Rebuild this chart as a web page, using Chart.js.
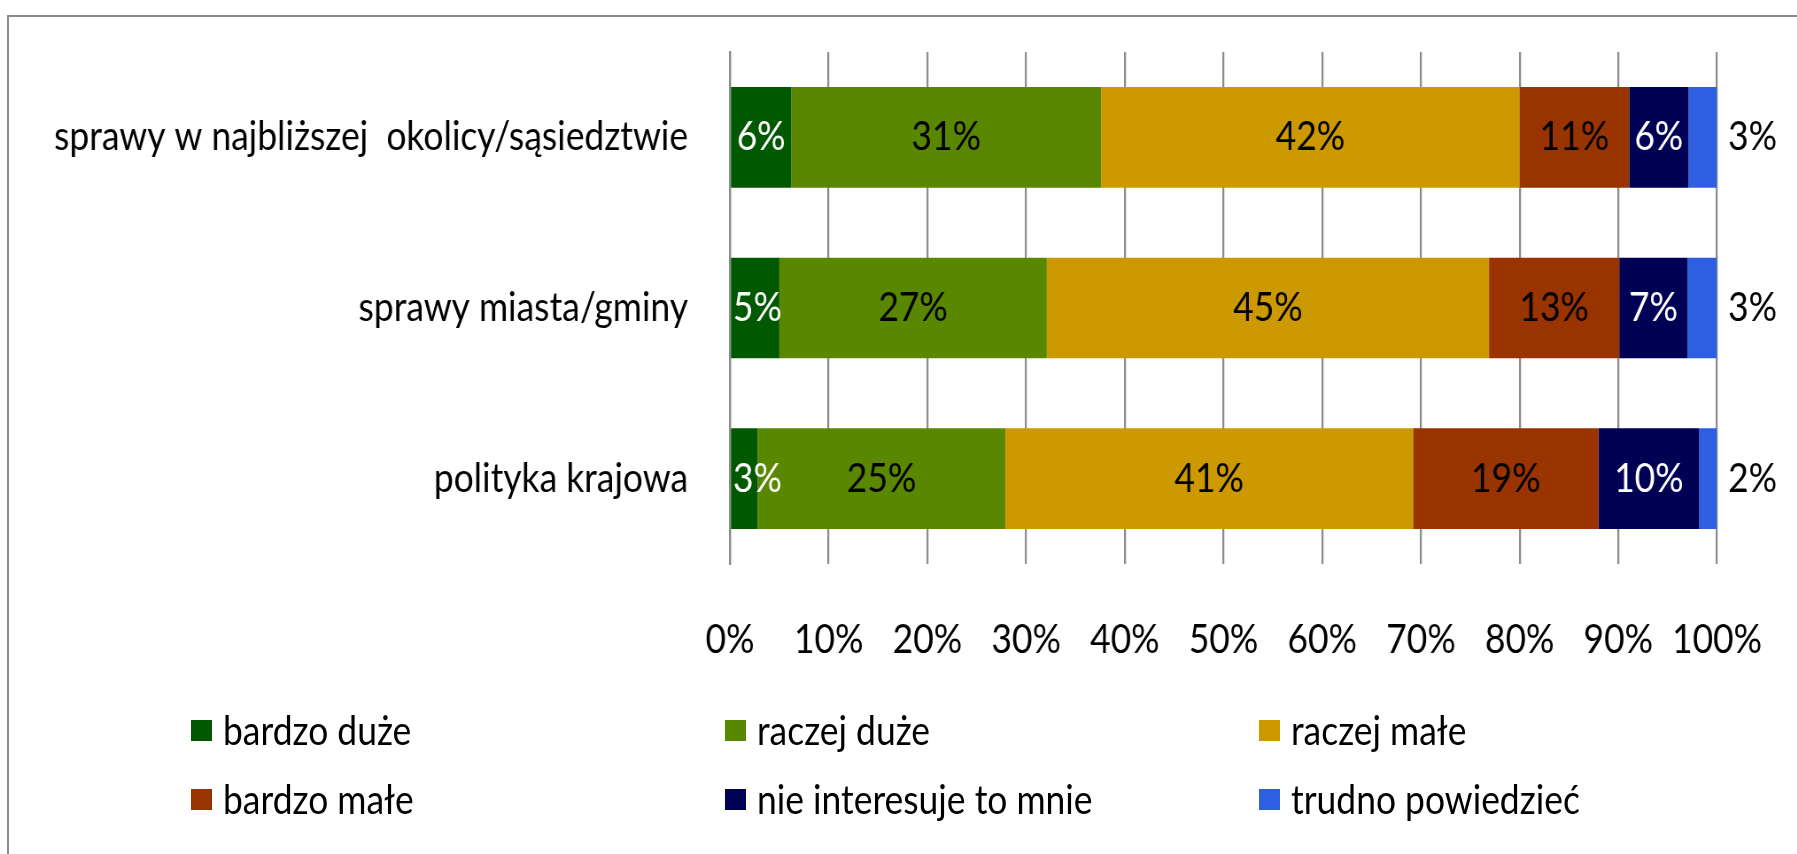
<!DOCTYPE html>
<html>
<head>
<meta charset="utf-8">
<script src="https://cdn.jsdelivr.net/npm/chart.js@4.4.1/dist/chart.umd.min.js"></script>
<style>
  body { margin: 0; overflow: hidden; background: #fff; }
  #wrap { position: relative; width: 1797px; height: 854px; overflow: hidden; }
  #frame { position: absolute; left: 7px; top: 15px; width: 1900px; height: 900px; border: 2px solid #8c8c8c; }
  #plot { position: absolute; left: 0; top: 0; transform-origin: 0 0; }
  #legend { position: absolute; left: 0; top: 0; font-family: Lato, sans-serif; font-size: 40px; color: #000; }
  .item { position: absolute; white-space: nowrap; line-height: 40px; }
  .item .box { position: absolute; left: 0; top: 10px; width: 21px; height: 21px; }
  .item .txt { position: absolute; left: 32px; top: 0; transform-origin: 0 0; }
</style>
</head>
<body>
<div id="wrap">
  <div id="frame"></div>
  <div id="plot"><canvas id="chart"></canvas></div>
  <div id="legend"></div>
</div>
<script>
const categories = ['sprawy w najbliższej  okolicy/sąsiedztwie', 'sprawy miasta/gminy', 'polityka krajowa']
const seriesNames = ['bardzo duże', 'raczej duże', 'raczej małe', 'bardzo małe', 'nie interesuje to mnie', 'trudno powiedzieć']
const bardzoDuze = [6.2, 5.0, 2.8]
const raczejDuze = [31.4, 27.1, 25.1]
const raczejMale = [42.4, 44.8, 41.3]
const bardzoMale = [11.1, 13.2, 18.8]
const nieInteresuje = [6.0, 6.9, 10.2]
const trudno = [2.9, 3.0, 1.8]
const xTicks = [0, 10, 20, 30, 40, 50, 60, 70, 80, 90, 100]

const colors = ['#005800', '#5a8700', '#cc9900', '#993300', '#000055', '#2e5fe0']
const labelColors = ['#fff', '#000', '#000', '#000', '#fff', '#000']
const seriesValues = [bardzoDuze, raczejDuze, raczejMale, bardzoMale, nieInteresuje, trudno]

const FONT = 'Lato, sans-serif'
const SIZE = 40

// the original text is narrow and tall, so the plot is drawn wider and squeezed
const probe = document.createElement('canvas').getContext('2d')
probe.font = SIZE + 'px ' + FONT
const squeeze = 634 / probe.measureText(categories[0]).width
const W = Math.round(1797 / squeeze)
const px = v => v / squeeze

const canvas = document.getElementById('chart')
canvas.width = W
canvas.height = 854
document.getElementById('plot').style.transform = 'scaleX(' + squeeze + ')'

const valueLabels = {
  id: 'valueLabels',
  afterDatasetsDraw(chart) {
    const ctx = chart.ctx
    const left = chart.chartArea.left
    ctx.save()
    ctx.font = SIZE + 'px ' + FONT
    ctx.textBaseline = 'middle'
    const last = chart.data.datasets.length - 1
    chart.data.datasets.forEach((ds, i) => {
      chart.getDatasetMeta(i).data.forEach((bar, j) => {
        const txt = Math.round(ds.data[j]) + '%'
        ctx.fillStyle = labelColors[i]
        if (i === last) {
          ctx.textAlign = 'left'
          ctx.fillText(txt, bar.x + px(11), bar.y)
        } else {
          // keep labels inside the plot area, as the spreadsheet does
          const half = ctx.measureText(txt).width / 2
          const x = Math.max((bar.x + bar.base) / 2, left + half + px(3))
          ctx.textAlign = 'center'
          ctx.fillText(txt, x, bar.y)
        }
      })
    })
    ctx.restore()
  }
}

new Chart(canvas, {
  type: 'bar',
  data: {
    labels: categories,
    datasets: seriesNames.map((name, i) => ({
      label: name,
      data: seriesValues[i],
      backgroundColor: colors[i],
      categoryPercentage: 1,
      barPercentage: 0.59
    }))
  },
  options: {
    indexAxis: 'y',
    responsive: false,
    animation: false,
    devicePixelRatio: 1,
    layout: { padding: { left: px(8), top: 52, right: W - px(1717), bottom: 0 } },
    plugins: { legend: { display: false }, tooltip: { enabled: false } },
    scales: {
      x: {
        stacked: true,
        min: 0,
        max: 100,
        afterBuildTicks: scale => { scale.ticks = xTicks.map(v => ({ value: v })) },
        afterFit: scale => {
          scale.height = 290
          scale.paddingLeft = 0
          scale.paddingRight = 0
        },
        grid: { color: '#8c8c8c', lineWidth: px(2), drawTicks: false },
        border: { display: false },
        ticks: {
          color: '#000',
          padding: 52,
          maxRotation: 0,
          font: { family: FONT, size: SIZE },
          callback: v => v + '%'
        }
      },
      y: {
        stacked: true,
        afterFit: scale => {
          scale.width = px(730) - px(8)
          scale.paddingTop = 0
          scale.paddingBottom = 0
        },
        grid: { display: false, drawTicks: false },
        border: { display: true, color: '#8c8c8c', width: px(2) },
        ticks: {
          color: '#000',
          padding: px(42),
          font: { family: FONT, size: SIZE }
        }
      }
    }
  },
  plugins: [valueLabels]
})

// legend in three columns, like the original
const legend = document.getElementById('legend')
const colX = [191, 725, 1259]
const rowY = [710, 779]
seriesNames.forEach((name, i) => {
  const item = document.createElement('div')
  item.className = 'item'
  item.style.left = colX[i % 3] + 'px'
  item.style.top = rowY[Math.floor(i / 3)] + 'px'
  item.innerHTML = '<span class="box" style="background:' + colors[i] + '"></span>' +
    '<span class="txt" style="transform:scaleX(' + squeeze + ')">' + name + '</span>'
  legend.appendChild(item)
})
</script>
</body>
</html>
